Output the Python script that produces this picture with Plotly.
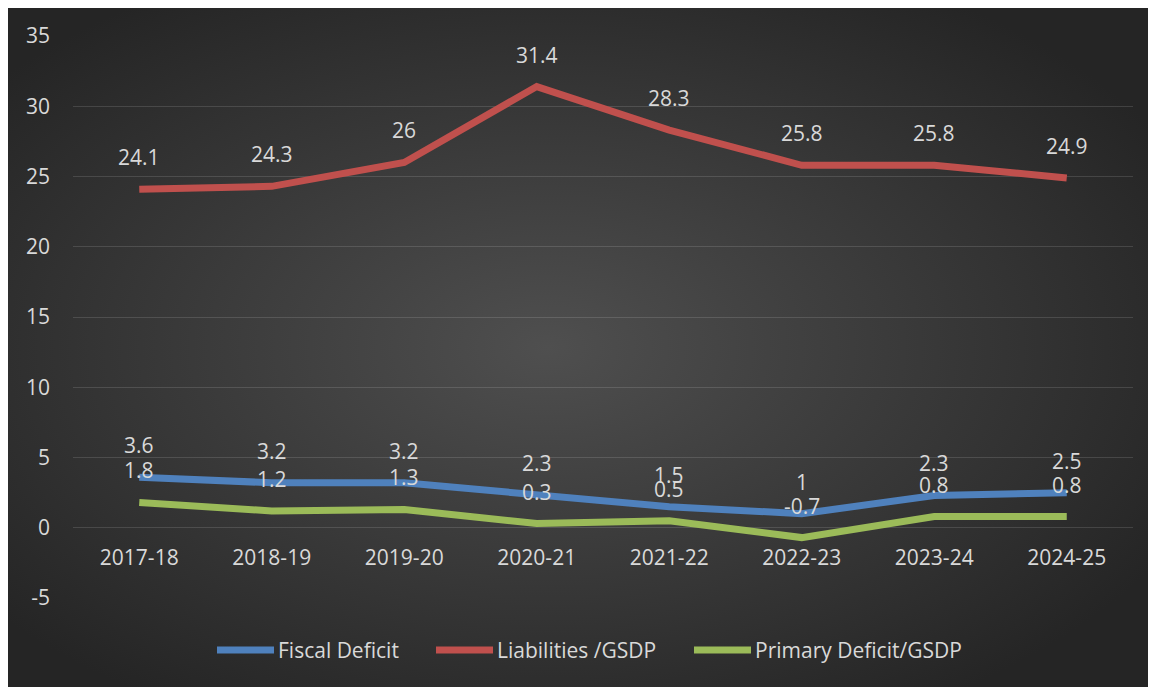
import base64
import plotly.graph_objects as go

years = ["2017-18", "2018-19", "2019-20", "2020-21", "2021-22", "2022-23", "2023-24", "2024-25"]
fiscal_deficit = [3.6, 3.2, 3.2, 2.3, 1.5, 1.0, 2.3, 2.5]
liabilities_gsdp = [24.1, 24.3, 26.0, 31.4, 28.3, 25.8, 25.8, 24.9]
primary_deficit_gsdp = [1.8, 1.2, 1.3, 0.3, 0.5, -0.7, 0.8, 0.8]
label_texts = {
    "Fiscal Deficit": ["3.6", "3.2", "3.2", "2.3", "1.5", "1", "2.3", "2.5"],
    "Liabilities /GSDP": ["24.1", "24.3", "26", "31.4", "28.3", "25.8", "25.8", "24.9"],
    "Primary Deficit/GSDP": ["1.8", "1.2", "1.3", "0.3", "0.5", "-0.7", "0.8", "0.8"],
}
y_ticks = [-5, 0, 5, 10, 15, 20, 25, 30, 35]
y_tick_text = ["-5", "0", "5", "10", "15", "20", "25", "30", "35"]

series = [
    ("Fiscal Deficit", fiscal_deficit, "#4f81bd"),
    ("Liabilities /GSDP", liabilities_gsdp, "#c0504d"),
    ("Primary Deficit/GSDP", primary_deficit_gsdp, "#9bbb59"),
]
# legend symbol start positions (figure pixels)
legend_x = [209, 428, 686]

FONT = "Open Sans"
FS = 21
TXT = "#d9d9d9"
W, H = 1148, 679
L, R, T, B = 65, 23, 28, 89
pw, ph = W - L - R, H - T - B
LEG_Y = (H - B - 642) / ph
SYM_W = 57

fig = go.Figure()
annotations = []
shapes = []
for (name, vals, color), lx in zip(series, legend_x):
    fig.add_trace(go.Scatter(
        x=years, y=vals, name=name, mode="lines",
        line=dict(color=color, width=7), showlegend=False,
    ))
    for x, y, t in zip(years, vals, label_texts[name]):
        annotations.append(dict(
            x=x, y=y, xref="x", yref="y", text=t, showarrow=False,
            yshift=32, font=dict(family=FONT, size=FS, color=TXT),
        ))
    shapes.append(dict(
        type="line", xref="paper", yref="paper",
        x0=(lx - L) / pw, x1=(lx + SYM_W - L) / pw, y0=LEG_Y, y1=LEG_Y,
        line=dict(color=color, width=7),
    ))
    annotations.append(dict(
        x=(lx + SYM_W + 2 - L) / pw, y=LEG_Y, xref="paper", yref="paper",
        xanchor="left", yanchor="middle", text=name, showarrow=False,
        font=dict(family=FONT, size=FS, color=TXT),
    ))

svg = (
    '<svg xmlns="http://www.w3.org/2000/svg" width="1148" height="679" '
    'viewBox="0 0 1148 679" preserveAspectRatio="none">'
    '<defs><radialGradient id="g" cx="47%" cy="50%" r="62%">'
    '<stop offset="0" stop-color="#4f4f4f"/>'
    '<stop offset="1" stop-color="#252525"/>'
    '</radialGradient></defs>'
    '<rect width="1148" height="679" fill="url(#g)"/></svg>'
)
src = "data:image/svg+xml;base64," + base64.b64encode(svg.encode()).decode()

fig.update_layout(
    width=W, height=H,
    margin=dict(l=L, r=R, t=T, b=B),
    paper_bgcolor="#2a2a2a",
    plot_bgcolor="rgba(0,0,0,0)",
    font=dict(family=FONT, size=FS, color=TXT),
    images=[dict(
        source=src, xref="paper", yref="paper",
        x=-L / pw, y=(H - B) / ph,
        sizex=W / pw, sizey=H / ph,
        xanchor="left", yanchor="top", sizing="stretch", layer="below",
    )],
    annotations=annotations,
    shapes=shapes,
    showlegend=False,
    xaxis=dict(
        type="category", range=[-0.5, 7.5], anchor="free", position=5 / 40,
        showgrid=False, zeroline=False, showline=False,
        ticks="outside", ticklen=11, tickcolor="rgba(0,0,0,0)",
        tickfont=dict(family=FONT, size=FS, color=TXT),
    ),
    yaxis=dict(
        range=[-5, 35], tickvals=y_ticks, ticktext=y_tick_text, showgrid=True,
        gridcolor="rgba(255,255,255,0.13)", gridwidth=1.3,
        zeroline=False, showline=False, ticklabelstandoff=22,
        tickfont=dict(family=FONT, size=FS, color=TXT),
    ),
)

fig.write_html("out.html")
